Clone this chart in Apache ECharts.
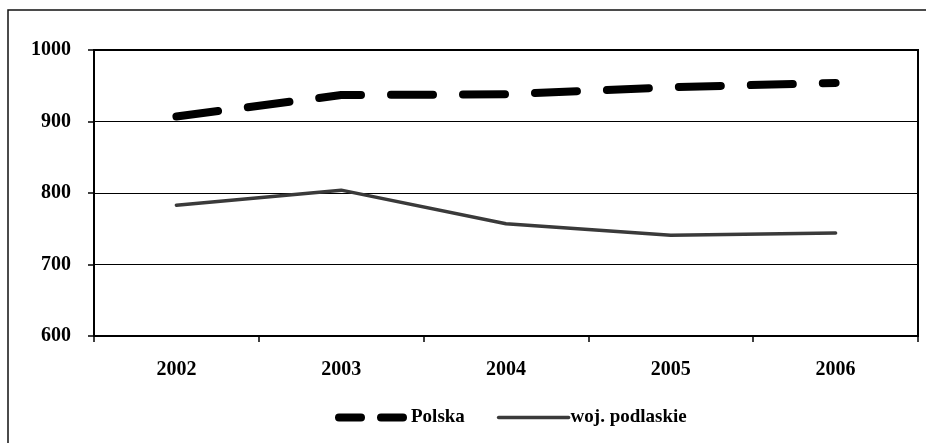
<!DOCTYPE html>
<html>
<head>
<meta charset="utf-8">
<script src="https://cdn.jsdelivr.net/npm/echarts@6/dist/echarts.min.js"></script>
<style>html,body{margin:0;padding:0;background:#fff}#c{width:931px;height:443px}</style>
</head>
<body>
<div id="c"></div>
<script>
var categories = ['2002', '2003', '2004', '2005', '2006'];
var polska = [907, 937, 938, 948, 954];
var podlaskie = [783, 804, 757, 741, 744];
var seriesNames = ['Polska', 'woj. podlaskie'];

var font = '"Liberation Serif", "Times New Roman", serif';
var chart = echarts.init(document.getElementById('c'), null, {renderer: 'canvas'});
chart.setOption({
  backgroundColor: '#fff',
  animation: false,
  graphic: [{
    type: 'polyline',
    shape: {points: [[8, 445], [8, 10], [926, 10]]},
    style: {stroke: '#111', lineWidth: 1.5, fill: null}
  }],
  grid: {left: 94, top: 50, right: 13, bottom: 107, show: true, borderColor: '#000', borderWidth: 2, backgroundColor: 'transparent'},
  legend: {
    left: 330, top: 403,
    itemWidth: 70, itemHeight: 14, itemGap: 32,
    textStyle: {fontFamily: font, fontWeight: 'bold', fontSize: 19, color: '#000', padding: [0, 0, 0, -3]},
    data: [
      {name: seriesNames[0], itemStyle: {opacity: 0}, lineStyle: {type: [22, 20], width: 8, cap: 'round', color: '#000'}},
      {name: seriesNames[1], itemStyle: {opacity: 0}, lineStyle: {width: 3.5, color: '#3a3a3a'}}
    ]
  },
  xAxis: {
    type: 'category', data: categories, boundaryGap: true,
    axisLine: {lineStyle: {color: '#000', width: 2}},
    axisTick: {show: true, length: 6, lineStyle: {color: '#000', width: 1.5}},
    axisLabel: {color: '#000', fontFamily: font, fontWeight: 'bold', fontSize: 20, margin: 24}
  },
  yAxis: {
    type: 'value', min: 600, max: 1000, interval: 100,
    axisLine: {show: true, lineStyle: {color: '#000', width: 2}},
    axisTick: {show: true, length: 6, lineStyle: {color: '#000', width: 1.5}},
    splitLine: {show: true, lineStyle: {color: '#000', width: 1}},
    axisLabel: {color: '#000', fontFamily: font, fontWeight: 'bold', fontSize: 20, margin: 23,
      formatter: function (v) { return String(v); }}
  },
  series: [
    {
      name: seriesNames[0], type: 'line', data: polska, symbol: 'none',
      lineStyle: {color: '#000', width: 8, type: [42, 30], cap: 'round', join: 'round'},
      itemStyle: {color: '#000'}
    },
    {
      name: seriesNames[1], type: 'line', data: podlaskie, symbol: 'none',
      lineStyle: {color: '#3a3a3a', width: 3.5, cap: 'round', join: 'round'},
      itemStyle: {color: '#3a3a3a'}
    }
  ]
});
</script>
</body>
</html>
